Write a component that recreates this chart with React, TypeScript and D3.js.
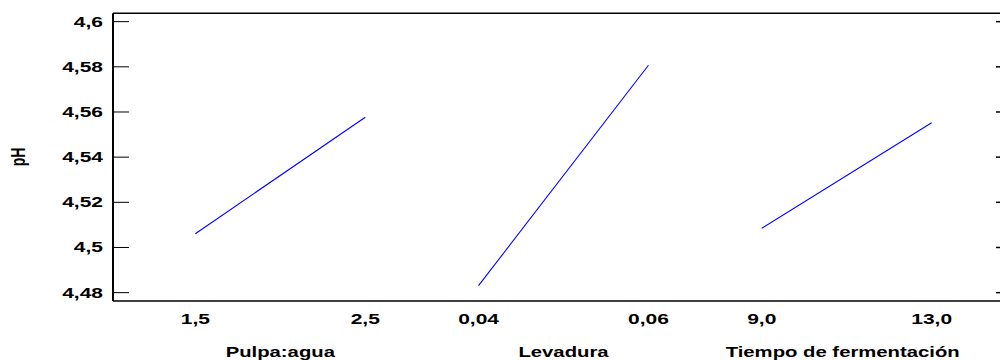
import React from "react";
import * as d3 from "d3";

// main effects for pH
const factors = ["Pulpa:agua", "Levadura", "Tiempo de fermentación"];
const lowLabels = ["1,5", "0,04", "9,0"];
const highLabels = ["2,5", "0,06", "13,0"];
const phAtLow = [4.5061, 4.4831, 4.5085];
const phAtHigh = [4.5577, 4.5807, 4.5552];
const yTicks = [4.48, 4.5, 4.52, 4.54, 4.56, 4.58, 4.6];

const W = 1000;
const H = 360;
const FONT = "'Liberation Sans', Arial, sans-serif";
const SX = 1.5; // the original picture is stretched sideways

const App = () => {
  const left = 113;
  const right = 1000;
  const top = 13.3;
  const bottom = 301;

  const y = d3.scaleLinear().domain([4.4763, 4.6037]).range([bottom, top]);

  const band = d3.scaleBand().domain(factors).range([138.7, 988.3]).padding(0);

  const inner = (f) =>
    d3
      .scaleLinear()
      .domain([-1, 1])
      .range([band(f) + band.bandwidth() * 0.2, band(f) + band.bandwidth() * 0.8]);

  const line = d3
    .line()
    .x((d) => d[0])
    .y((d) => y(d[1]));

  const fmt = (v) => String(+v.toFixed(2)).replace(".", ",");

  return (
    <div style={{ position: "absolute", left: 0, top: 0 }}>
      <svg width={W} height={H} style={{ display: "block", background: "#fff" }}>
        {/* frame */}
        <line x1={left} x2={right} y1={top} y2={top} stroke="#000" strokeWidth={1.5} />
        <line x1={left} x2={right} y1={bottom} y2={bottom} stroke="#000" strokeWidth={1.5} />
        <line x1={left} x2={left} y1={top} y2={bottom} stroke="#000" strokeWidth={2} />

        {/* y ticks */}
        {yTicks.map((t) => (
          <g key={t}>
            <line x1={left} x2={left + 16} y1={y(t)} y2={y(t)} stroke="#000" strokeWidth={1} />
            <line x1={right - 4} x2={right} y1={y(t)} y2={y(t)} stroke="#000" strokeWidth={1.5} />
            <text
              transform={`translate(${103},${y(t) + 5}) scale(${SX},1)`}
              textAnchor="end"
              fontFamily={FONT}
              fontWeight="bold"
              fontSize={14}
              fill="#000"
            >
              {fmt(t)}
            </text>
          </g>
        ))}

        <text
          transform={`translate(25,157) scale(${SX},1) rotate(-90)`}
          textAnchor="middle"
          fontFamily={FONT}
          fontWeight="bold"
          fontSize={14}
          fill="#000"
        >
          pH
        </text>

        {/* effect lines and x labels */}
        {factors.map((f, i) => {
          const xs = inner(f);
          return (
            <g key={f}>
              <path
                d={line([
                  [xs(-1), phAtLow[i]],
                  [xs(1), phAtHigh[i]],
                ])}
                fill="none"
                stroke="#0000ff"
                strokeWidth={1.1}
              />
              {[
                [-1, lowLabels[i]],
                [1, highLabels[i]],
              ].map(([v, lab]) => (
                <text
                  key={lab}
                  transform={`translate(${xs(v)},324) scale(${SX},1)`}
                  textAnchor="middle"
                  fontFamily={FONT}
                  fontWeight="bold"
                  fontSize={14}
                  fill="#000"
                >
                  {lab}
                </text>
              ))}
              <text
                transform={`translate(${band(f) + band.bandwidth() / 2 - (i === 2 ? 4 : 0)},357) scale(1.45,1)`}
                textAnchor="middle"
                fontFamily={FONT}
                fontWeight="bold"
                fontSize={14}
                fill="#000"
              >
                {f}
              </text>
            </g>
          );
        })}
      </svg>
    </div>
  );
};

export default App;
